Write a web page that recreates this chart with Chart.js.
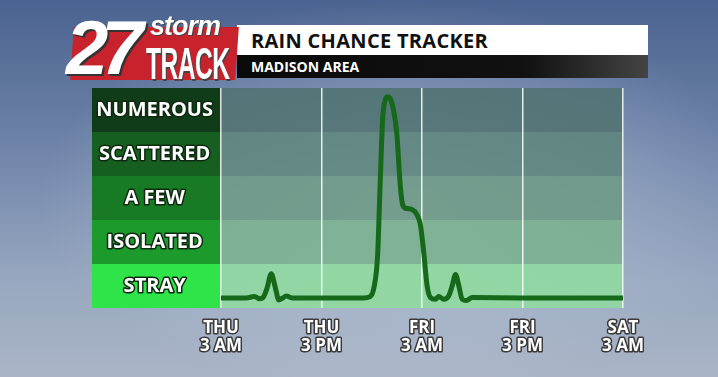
<!DOCTYPE html>
<html>
<head>
<meta charset="utf-8">
<script src="https://cdn.jsdelivr.net/npm/chart.js@4.4.0/dist/chart.umd.min.js"></script>
<style>
  html, body { margin: 0; padding: 0; }
  body {
    width: 718px; height: 377px; overflow: hidden; position: relative;
    background:
      radial-gradient(ellipse 360px 200px at 400px 200px, rgba(200,212,226,0.55) 0%, rgba(200,212,226,0) 100%),
      linear-gradient(180deg, #4b6390 0%, #6a80a6 35%, #98a8c0 75%, #aab4c6 100%);
    font-family: "Open Sans", "DejaVu Sans", sans-serif;
  }
  #chart { position: absolute; left: 0; top: 0; }
  .logo { position: absolute; left: 72px; top: 27px; width: 165px; height: 53px; background: #c8222c; transform: skewX(-4deg); }
  .n27 { position: absolute; left: 66px; top: 10px; font: italic 900 76px "Liberation Sans", sans-serif; color: #fff; letter-spacing: -7px; text-shadow: 2px 2px 0 #333; line-height: 1; }
  .storm { position: absolute; left: 150px; top: 13px; font: italic bold 27px "Liberation Sans", sans-serif; color: #fff; letter-spacing: -1px; text-shadow: 1px 1px 0 #444; line-height: 1; }
  .track { position: absolute; left: 146px; top: 42px; font: bold 44px "Liberation Sans", sans-serif; color: #fff; letter-spacing: -1px; text-shadow: 2px 2px 0 #444; line-height: 1; transform: scaleX(0.56); transform-origin: left; }
  .titlebar { position: absolute; left: 237px; top: 25px; width: 411px; height: 30px; background: #fff; }
  .title { position: absolute; left: 251px; top: 29px; font: bold 20px "Open Sans", sans-serif; color: #111; letter-spacing: 0.3px; line-height: 24px; }
  .subbar { position: absolute; left: 237px; top: 55px; width: 411px; height: 23px; background: linear-gradient(90deg, #0a0a0a 0%, #111 70%, #444 100%); }
  .sub { position: absolute; left: 251px; top: 57px; font: bold 14px "Open Sans", sans-serif; color: #fff; line-height: 19px; }
</style>
</head>
<body>
<canvas id="chart" width="718" height="377"></canvas>
<div class="titlebar"></div>
<div class="title">RAIN CHANCE TRACKER</div>
<div class="subbar"></div>
<div class="sub">MADISON AREA</div>
<div class="logo"></div>
<div class="n27">27</div>
<div class="storm">storm</div>
<div class="track">TRACK</div>
<script>
// categories on the y axis (bottom to top)
const categories = ['STRAY', 'ISOLATED', 'A FEW', 'SCATTERED', 'NUMEROUS'];
const categoryColors = ['#2ee449', '#1c9a2c', '#197a25', '#165f21', '#113c19'];
const bandColors = ['#8edc9e', '#79b18d', '#6c9984', '#5d857a', '#4f7270'];

// x axis: hours from Thu 3 AM
const tickHours = [0, 12, 24, 36, 48];
const tickLabels = [['THU', '3 AM'], ['THU', '3 PM'], ['FRI', '3 AM'], ['FRI', '3 PM'], ['SAT', '3 AM']];

// rain chance curve (hour, level 0-5)
const hours = [0, 3, 4, 4.6, 5.1, 5.5, 6, 6.5, 6.9, 7.3, 7.8, 8.5, 12, 17, 17.8, 18.3, 18.7, 19, 19.3, 19.6, 19.9, 20.3, 20.6, 21, 21.4, 21.7, 22.2, 22.8, 23.4, 23.8, 24.2, 24.6, 25, 25.6, 26, 26.6, 27.2, 27.6, 28, 28.4, 28.8, 29.3, 30, 36, 48];
const levels = [0.23, 0.23, 0.26, 0.21, 0.26, 0.45, 0.78, 0.45, 0.18, 0.22, 0.27, 0.23, 0.23, 0.23, 0.26, 0.5, 1.2, 2.8, 4.3, 4.72, 4.8, 4.72, 4.5, 3.95, 2.8, 2.34, 2.26, 2.24, 2.12, 1.9, 1.28, 0.52, 0.24, 0.2, 0.26, 0.2, 0.28, 0.5, 0.76, 0.5, 0.2, 0.17, 0.24, 0.23, 0.23];

const points = hours.map((h, i) => ({ x: h, y: levels[i] }));

const bandsPlugin = {
  id: 'bands',
  beforeDraw(chart) {
    const ctx = chart.ctx;
    const area = chart.chartArea;
    const y = chart.scales.y;
    ctx.save();
    for (let i = 0; i < categories.length; i++) {
      const top = y.getPixelForValue(i + 1);
      const bottom = y.getPixelForValue(i);
      // label box
      ctx.fillStyle = categoryColors[i];
      ctx.fillRect(92, top, area.left - 92, bottom - top);
      // band in plot area
      ctx.globalAlpha = 0.85;
      ctx.fillStyle = bandColors[i];
      ctx.fillRect(area.left, top, area.right - area.left, bottom - top);
      ctx.globalAlpha = 1;
    }
    ctx.restore();
    // round joins so the outlined labels don't get miter spikes
    ctx.lineJoin = 'round';
  }
};

new Chart(document.getElementById('chart'), {
  type: 'line',
  data: {
    datasets: [{
      data: points,
      borderColor: '#16691a',
      borderWidth: 5,
      borderJoinStyle: 'round',
      pointRadius: 0,
      cubicInterpolationMode: 'monotone',
      fill: false
    }]
  },
  options: {
    responsive: false,
    animation: false,
    layout: { padding: { left: 92, right: 95, top: 88, bottom: 0 } },
    plugins: { legend: { display: false }, tooltip: { enabled: false } },
    scales: {
      x: {
        type: 'linear',
        min: 0,
        max: 48,
        afterBuildTicks(axis) { axis.ticks = tickHours.map(v => ({ value: v })); },
        afterFit(axis) { axis.height = 69; },
        grid: { color: 'rgba(255,255,255,0.85)', lineWidth: 1.5, drawTicks: false },
        border: { display: false },
        ticks: {
          padding: 11,
          color: '#ffffff',
          textStrokeColor: '#3a3a3a',
          textStrokeWidth: 3,
          font: { family: 'Open Sans', weight: 'bold', size: 17, lineHeight: 1.05 },
          maxRotation: 0,
          callback: v => tickLabels[tickHours.indexOf(v)]
        }
      },
      y: {
        min: 0,
        max: 5,
        afterBuildTicks(axis) { axis.ticks = categories.map((c, i) => ({ value: i + 0.5 })); },
        afterFit(axis) { axis.width = 129; },
        grid: { display: false },
        border: { display: false },
        ticks: {
          color: '#ffffff',
          textStrokeColor: '#0d2a10',
          textStrokeWidth: 3,
          crossAlign: 'center',
          padding: 0,
          font: { family: 'Open Sans', weight: 'bold', size: 20 },
          callback: v => categories[Math.floor(v)]
        }
      }
    }
  },
  plugins: [bandsPlugin]
});
</script>
</body>
</html>
